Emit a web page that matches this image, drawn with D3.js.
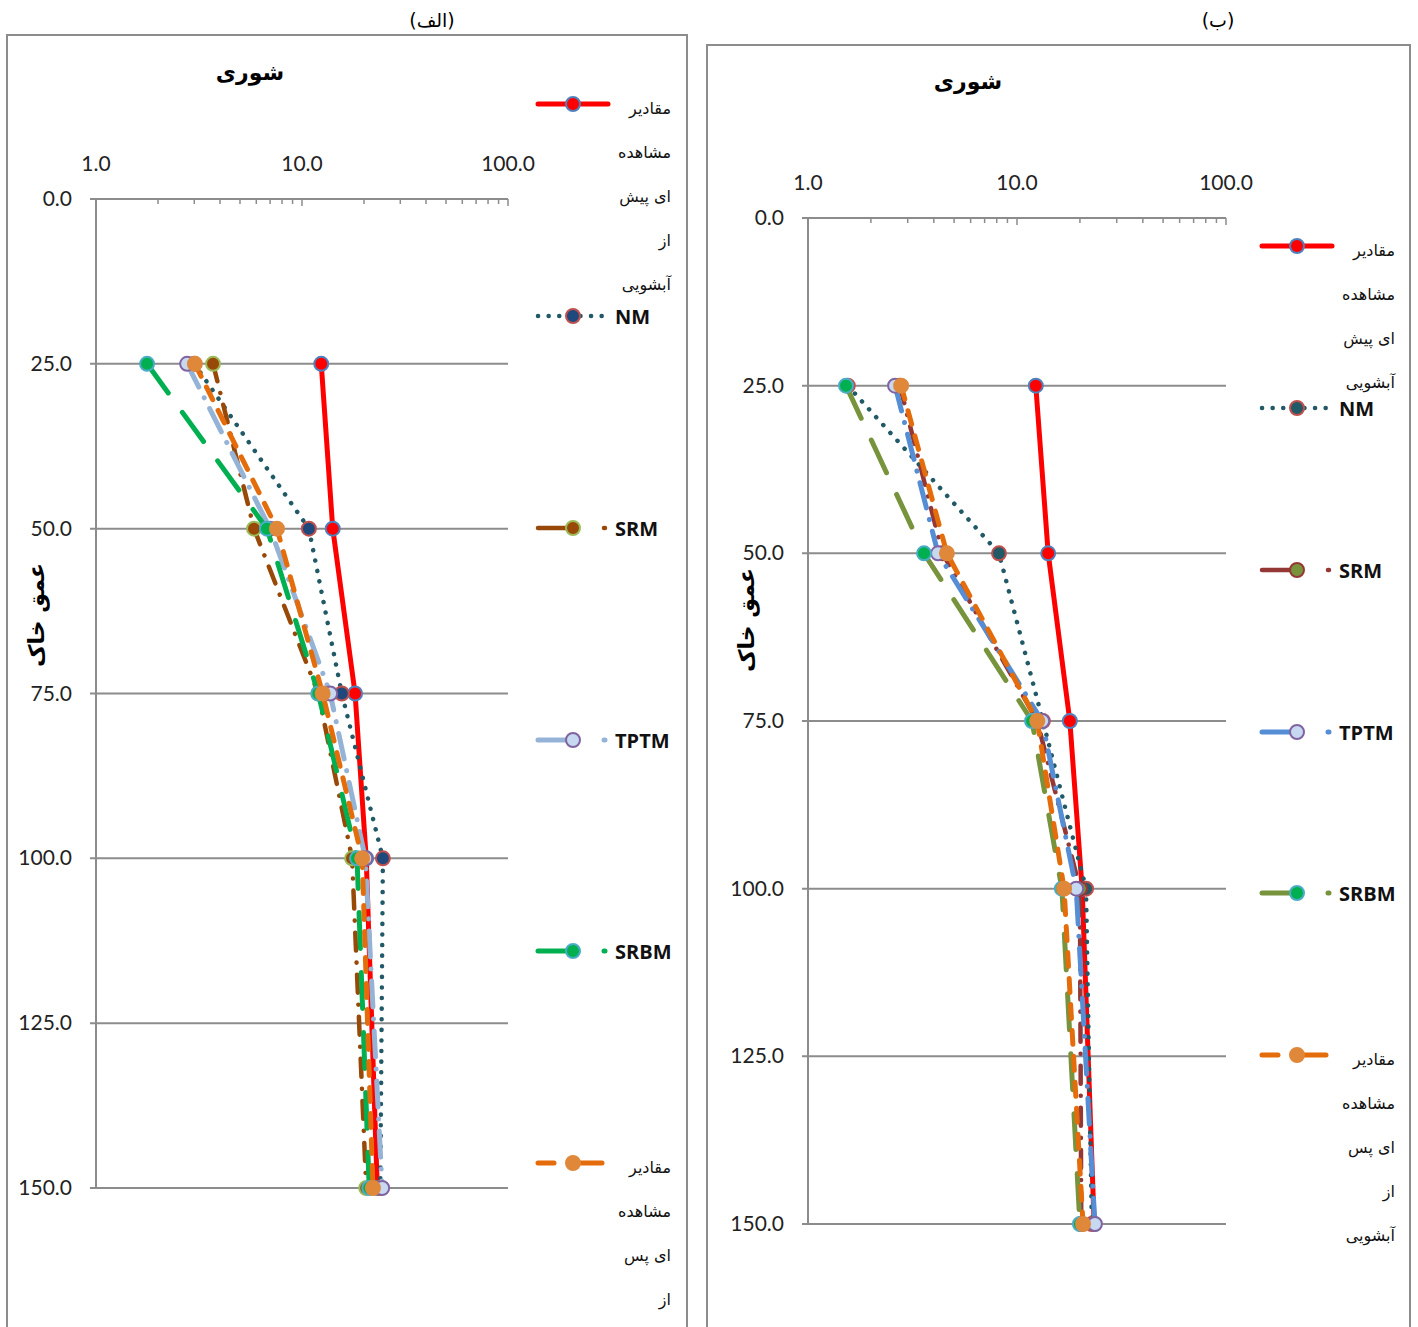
<!DOCTYPE html>
<html><head><meta charset="utf-8">
<script src="https://cdn.jsdelivr.net/npm/d3@7"></script>
<style>body{margin:0;background:#fff}svg{display:block}</style>
</head><body>
<svg id="c" width="1418" height="1327"></svg>
<script>
const depths = [25, 50, 75, 100, 150];
const yTicks = [0, 25, 50, 75, 100, 125, 150];
const xTickLabels = [1, 10, 100];
const seriesNames = ["مقادیر مشاهده ای پیش از آبشویی", "NM", "SRM", "TPTM", "SRBM", "مقادیر مشاهده ای پس از آبشویی"];

// Panel الف
const obsPreA  = [12.4, 14.1, 18.1, 20.5, 23.2];
const nmA      = [3.0, 10.8, 15.6, 24.7, 24.0];
const srmA     = [3.7, 5.85, 12.0, 17.5, 20.5];
const tptmA    = [2.77, 7.0, 13.7, 20.3, 24.5];
const srbmA    = [1.77, 6.76, 12.0, 18.5, 21.2];
const obsPostA = [3.02, 7.56, 12.6, 19.6, 22.1];

// Panel ب
const obsPreB  = [12.3, 14.1, 17.9, 20.5, 23.4];
const nmB      = [1.55, 8.2, 13.3, 21.4, 22.8];
const srmB     = [2.75, 4.4, 12.5, 20.0, 20.3];
const tptmB    = [2.61, 4.19, 13.2, 19.2, 23.6];
const srbmB    = [1.52, 3.59, 11.8, 16.4, 20.0];
const obsPostB = [2.79, 4.62, 12.5, 16.8, 20.7];

const svg = d3.select("#c");
const fa = "'DejaVu Sans', sans-serif";
const num = "Lato, 'Open Sans', sans-serif";

function drawPanel(cfg) {
  const g = svg.append("g");
  g.append("rect").attr("x", cfg.frame[0]).attr("y", cfg.frame[1]).attr("width", cfg.frame[2]).attr("height", cfg.frame[3])
    .attr("fill", "none").attr("stroke", "#8c8c8c").attr("stroke-width", 2);
  g.append("text").attr("x", cfg.label[0]).attr("y", cfg.label[1]).attr("text-anchor", "middle")
    .attr("font-family", fa).attr("font-size", 19).attr("direction", "rtl").text(cfg.labelText);
  g.append("text").attr("x", cfg.title[0]).attr("y", cfg.title[1]).attr("text-anchor", "middle")
    .attr("font-family", fa).attr("font-size", 22).attr("font-weight", "bold").text("شوری");

  const x = d3.scaleLog().domain([1, 100]).range([cfg.x0, cfg.x1]);
  const y = d3.scaleLinear().domain([0, 150]).range([cfg.y0, cfg.y1]);

  g.selectAll(".grid").data(yTicks.filter(d => d > 0)).join("line")
    .attr("x1", cfg.x0 - 6).attr("x2", cfg.x1).attr("y1", d => y(d)).attr("y2", d => y(d))
    .attr("stroke", "#8c8c8c").attr("stroke-width", 2);

  const minor = [];
  for (let dec = 1; dec <= 10; dec *= 10) for (let k = 1; k <= 10; k++) minor.push(dec * k);
  const mv = Array.from(new Set(minor));
  g.append("line").attr("x1", cfg.x0).attr("x2", cfg.x1).attr("y1", cfg.y0).attr("y2", cfg.y0)
    .attr("stroke", "#8c8c8c").attr("stroke-width", 2);
  g.selectAll(".mt").data(mv).join("line")
    .attr("x1", d => x(d)).attr("x2", d => x(d)).attr("y1", cfg.y0)
    .attr("y2", d => cfg.y0 + (xTickLabels.includes(d) ? 7 : 5))
    .attr("stroke", "#8c8c8c").attr("stroke-width", 1.5);
  g.selectAll(".xl").data(xTickLabels).join("text")
    .attr("x", d => x(d)).attr("y", cfg.xLabelY).attr("text-anchor", "middle")
    .attr("font-family", num).attr("font-size", 21).attr("fill", "#222")
    .text(d => d.toFixed(1));

  g.append("line").attr("x1", cfg.x0).attr("x2", cfg.x0).attr("y1", cfg.y0).attr("y2", cfg.y1)
    .attr("stroke", "#8c8c8c").attr("stroke-width", 2);
  g.append("line").attr("x1", cfg.x0 - 6).attr("x2", cfg.x0).attr("y1", cfg.y0).attr("y2", cfg.y0)
    .attr("stroke", "#8c8c8c").attr("stroke-width", 2);
  g.selectAll(".yl").data(yTicks).join("text")
    .attr("x", cfg.x0 - 24).attr("y", d => y(d) + 7).attr("text-anchor", "end")
    .attr("font-family", num).attr("font-size", 21).attr("fill", "#222")
    .text(d => d.toFixed(1));
  g.append("text").attr("transform", `translate(${cfg.yTitle[0]},${cfg.yTitle[1]}) rotate(-90)`)
    .attr("text-anchor", "middle").attr("font-family", fa).attr("font-size", 22).attr("font-weight", "bold")
    .text("عمق خاک");

  const line = d3.line().x(d => x(d[0])).y(d => y(d[1]));
  const plotG = g.append("g");
  cfg.series.forEach(s => {
    const pts = s.values.map((v, i) => [v, depths[i]]);
    plotG.append("path").attr("d", line(pts)).attr("fill", "none").attr("stroke", s.color)
      .attr("stroke-width", s.width).attr("stroke-dasharray", s.dash || null)
      .attr("stroke-linecap", "round").attr("stroke-linejoin", "round");
    plotG.selectAll(null).data(pts).join("circle")
      .attr("cx", d => x(d[0])).attr("cy", d => y(d[1])).attr("r", 7)
      .attr("fill", s.mfill).attr("stroke", s.mstroke).attr("stroke-width", 2);
  });

  const lg = g.append("g");
  cfg.series.forEach((s, i) => {
    const ly = cfg.legendY[i];
    lg.append("line").attr("x1", cfg.legX).attr("x2", cfg.legX + 70).attr("y1", ly).attr("y2", ly)
      .attr("stroke", s.color).attr("stroke-width", s.width).attr("stroke-dasharray", s.legDash || s.dash || null)
      .attr("stroke-linecap", "round");
    lg.append("circle").attr("cx", cfg.legX + 35).attr("cy", ly).attr("r", 7)
      .attr("fill", s.mfill).attr("stroke", s.mstroke).attr("stroke-width", 2);
    const lines = cfg.legendText[i];
    if (lines.length === 1 && /^[A-Z]/.test(lines[0])) {
      lg.append("text").attr("x", cfg.legX + 77).attr("y", ly + 8)
        .attr("font-family", "'Open Sans', sans-serif").attr("font-weight", "bold").attr("font-size", 20)
        .attr("fill", "#111").text(lines[0]);
    } else {
      lines.forEach((t, k) => {
        lg.append("text").attr("x", cfg.legTextX).attr("y", ly + 10 + k * 44).attr("text-anchor", "end")
          .attr("font-family", fa).attr("font-size", 16).attr("fill", "#111").text(t);
      });
    }
  });
}

drawPanel({
  frame: [7, 35, 680, 1310], label: [432, 27], labelText: "(الف)", title: [250, 80],
  x0: 96, x1: 508, y0: 199, y1: 1188, xLabelY: 171, yTitle: [44, 615],
  legX: 538, legTextX: 671,
  legendY: [104, 316, 528, 740, 951, 1163],
  legendText: [["مقادیر", "مشاهده", "ای پیش", "از", "آبشویی"], ["NM"], ["SRM"], ["TPTM"], ["SRBM"], ["مقادیر", "مشاهده", "ای پس", "از"]],
  series: [
    {values: obsPreA, color: "#ff0000", width: 5, dash: null, mfill: "#ff0000", mstroke: "#4f81bd"},
    {values: nmA, color: "#215967", width: 4.5, dash: "0.1 10.5", mfill: "#1f497d", mstroke: "#c0504d"},
    {values: srmA, color: "#984807", width: 4.5, dash: "18 12 0.1 12", legDash: "40 26 1 100", mfill: "#984807", mstroke: "#9bbb59"},
    {values: tptmA, color: "#95b3d7", width: 5, dash: "26 12 0.1 12", legDash: "40 26 1 100", mfill: "#c6d9f1", mstroke: "#8064a2"},
    {values: srbmA, color: "#00b050", width: 5, dash: "36 24", legDash: "40 26 1 100", mfill: "#00b050", mstroke: "#4bacc6"},
    {values: obsPostA, color: "#e46c0a", width: 5, dash: "14 12", legDash: "16 26 22 100", mfill: "#e0883a", mstroke: "#e0883a"}
  ]
});

drawPanel({
  frame: [707, 45, 703, 1300], label: [1218, 27], labelText: "(ب)", title: [968, 89],
  x0: 808, x1: 1226, y0: 218, y1: 1224, xLabelY: 190, yTitle: [754, 620],
  legX: 1262, legTextX: 1395,
  legendY: [246, 408, 570, 732, 893, 1055],
  legendText: [["مقادیر", "مشاهده", "ای پیش", "آبشویی"], ["NM"], ["SRM"], ["TPTM"], ["SRBM"], ["مقادیر", "مشاهده", "ای پس", "از", "آبشویی"]],
  series: [
    {values: obsPreB, color: "#ff0000", width: 5, dash: null, mfill: "#ff0000", mstroke: "#4f81bd"},
    {values: nmB, color: "#215967", width: 4.5, dash: "0.1 10.5", mfill: "#215967", mstroke: "#c0504d"},
    {values: srmB, color: "#953735", width: 4.5, dash: "18 12 0.1 12", legDash: "40 26 1 100", mfill: "#77933c", mstroke: "#953735"},
    {values: tptmB, color: "#558ed5", width: 5, dash: "26 12 0.1 12", legDash: "40 26 1 100", mfill: "#c6d9f1", mstroke: "#8064a2"},
    {values: srbmB, color: "#77933c", width: 5, dash: "36 24", legDash: "40 26 1 100", mfill: "#00b050", mstroke: "#4bacc6"},
    {values: obsPostB, color: "#e46c0a", width: 5, dash: "14 12", legDash: "16 26 22 100", mfill: "#e0883a", mstroke: "#e0883a"}
  ]
});
</script>
</body></html>
